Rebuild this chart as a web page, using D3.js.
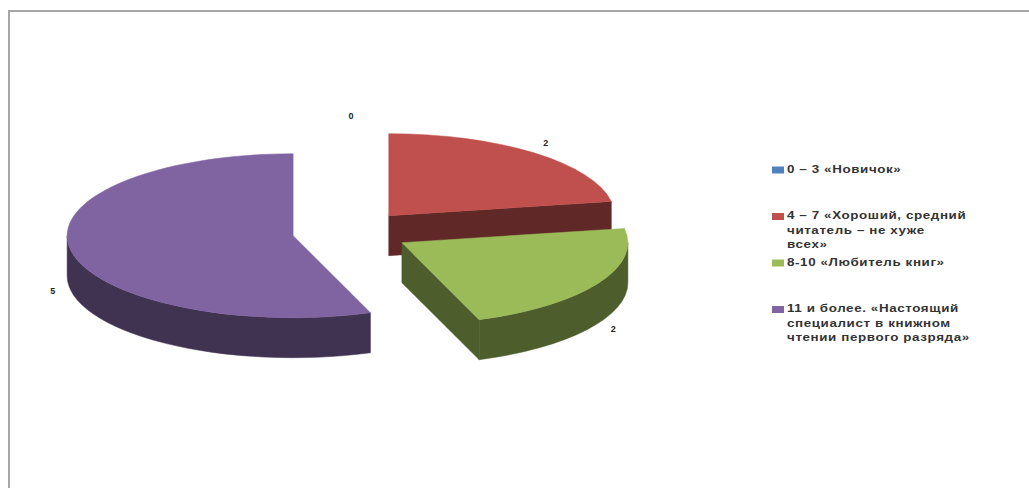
<!DOCTYPE html>
<html>
<head>
<meta charset="utf-8">
<script src="https://cdn.jsdelivr.net/npm/d3@7"></script>
<style>
  body { margin: 0; background: #fff; }
  svg { display: block; font-family: "Liberation Sans", Arial, sans-serif; }
</style>
</head>
<body>
<script>
// data
var categories = [
  ["0 – 3 «Новичок»"],
  ["4 – 7 «Хороший, средний", "читатель – не хуже", "всех»"],
  ["8-10 «Любитель книг»"],
  ["11 и более. «Настоящий", "специалист в книжном", "чтении первого разряда»"]
];
var values = [0, 2, 2, 5];
var colors = ["#4f81bd", "#c0504d", "#9bbb59", "#8064a2"];

var width = 1029, height = 488;

// pie geometry (tilted ellipse)
var cx = 351, cy = 232;
var rx = 226, ry = 82;
var depth = 40;
var explode = 0.26;

var svg = d3.select("body").append("svg")
    .attr("width", width)
    .attr("height", height);

// chart frame
svg.append("rect")
    .attr("x", 9).attr("y", 11)
    .attr("width", 1100).attr("height", 600)
    .style("fill", "none")
    .style("stroke", "#a6a6a6")
    .style("stroke-width", 2);

var pie = d3.pie().sort(null).startAngle(0).endAngle(2 * Math.PI);
var arcs = pie(values);

function pt(o, a, dy) {
  return [o[0] + rx * Math.sin(a), o[1] - ry * Math.cos(a) + (dy || 0)];
}

arcs.forEach(function(d, i) {
  var mid = (d.startAngle + d.endAngle) / 2;
  d.index = i;
  d.mid = mid;
  d.o = [cx + explode * rx * Math.sin(mid), cy - explode * ry * Math.cos(mid)];
});

function topPath(d) {
  var p0 = pt(d.o, d.startAngle), p1 = pt(d.o, d.endAngle);
  var large = (d.endAngle - d.startAngle) > Math.PI ? 1 : 0;
  return "M" + d.o + "L" + p0 + "A" + rx + "," + ry + " 0 " + large + " 1 " + p1 + "Z";
}

function sidePath(d) {
  var b0 = Math.max(d.startAngle, Math.PI / 2);
  var b1 = Math.min(d.endAngle, 3 * Math.PI / 2);
  if (b1 <= b0) return null;
  var p0 = pt(d.o, b0), p1 = pt(d.o, b1);
  var q0 = pt(d.o, b0, depth), q1 = pt(d.o, b1, depth);
  return "M" + p0 + "A" + rx + "," + ry + " 0 0 1 " + p1 +
         "L" + q1 + "A" + rx + "," + ry + " 0 0 0 " + q0 + "Z";
}

function wallPath(d, a) {
  var p = pt(d.o, a), q = pt(d.o, a, depth);
  return "M" + d.o + "L" + p + "L" + q + "L" + [d.o[0], d.o[1] + depth] + "Z";
}

// back to front
var drawn = arcs.filter(function(d) { return d.value > 0; })
    .sort(function(a, b) {
      return (a.o[1] - ry * Math.cos(a.mid)) - (b.o[1] - ry * Math.cos(b.mid));
    });

var g = svg.append("g");

drawn.forEach(function(d) {
  var c = colors[d.index];
  var dark = d3.color(c).darker(1.95).formatHex();
  var sg = g.append("g");

  if (Math.sin(d.endAngle) > 0.01) {
    sg.append("path").attr("d", wallPath(d, d.endAngle))
      .style("fill", dark).style("stroke", dark).style("stroke-width", 0.5);
  }
  if (Math.sin(d.startAngle) < -0.01) {
    sg.append("path").attr("d", wallPath(d, d.startAngle))
      .style("fill", dark).style("stroke", dark).style("stroke-width", 0.5);
  }
  var sp = sidePath(d);
  if (sp) {
    sg.append("path").attr("d", sp)
      .style("fill", dark).style("stroke", dark).style("stroke-width", 0.5);
  }
  sg.append("path").attr("d", topPath(d))
    .style("fill", c).style("stroke", c).style("stroke-width", 0.5);
});

// data labels
svg.selectAll(".lbl")
    .data(arcs)
    .enter().append("text")
    .attr("class", "lbl")
    .attr("x", function(d) { return d.o[0] + 1.08 * rx * Math.sin(d.mid); })
    .attr("y", function(d) {
      var y = d.o[1] - 1.15 * ry * Math.cos(d.mid);
      if (Math.cos(d.mid) < 0) y += depth;
      return y;
    })
    .attr("text-anchor", "middle")
    .attr("dominant-baseline", "middle")
    .style("font-size", "9px")
    .style("font-weight", "bold")
    .style("fill", "#222")
    .text(function(d) { return d.value; });

// legend
var legendX = 772, legendY = 170, legendStep = 46.5, lineH = 14.5;

var leg = svg.selectAll(".leg")
    .data(categories)
    .enter().append("g")
    .attr("class", "leg")
    .attr("transform", function(d, i) {
      return "translate(" + legendX + "," + (legendY + i * legendStep) + ")";
    });

leg.append("rect")
    .attr("x", 0).attr("y", -3.5)
    .attr("width", 12).attr("height", 7)
    .style("fill", function(d, i) { return colors[i]; });

leg.each(function(lines) {
  var el = d3.select(this);
  lines.forEach(function(s, k) {
    el.append("text")
      .attr("transform", "translate(15," + (k * lineH) + ") scale(1.34,1)")
      .attr("dominant-baseline", "middle")
      .style("font-size", "10px")
      .style("font-weight", "bold")
      .style("letter-spacing", "0.45px")
      .style("fill", "#333")
      .text(s);
  });
});
</script>
</body>
</html>
